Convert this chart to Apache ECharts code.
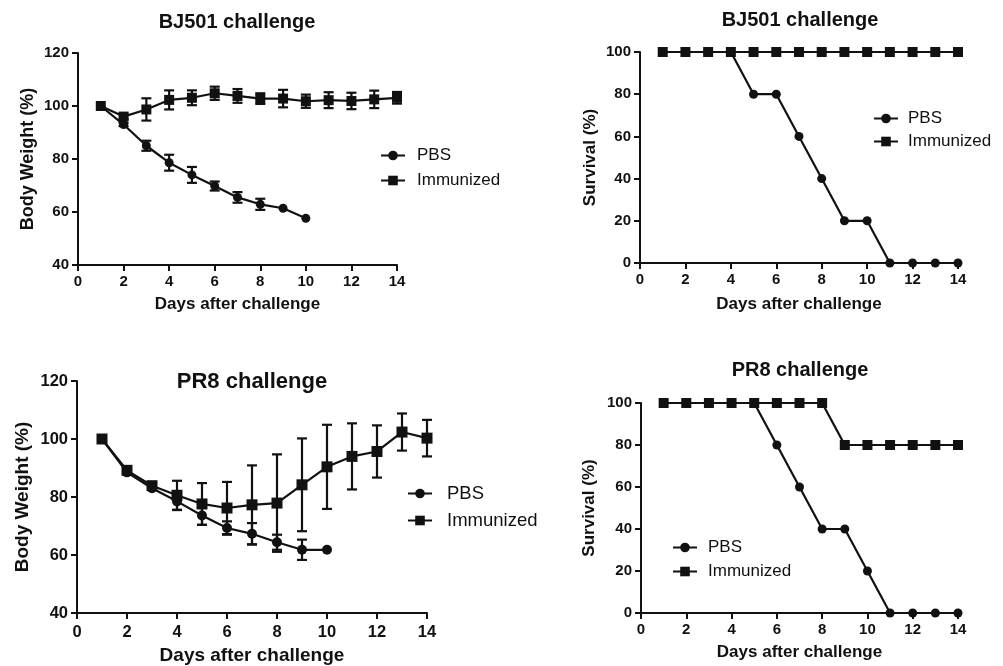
<!DOCTYPE html>
<html lang="en">
<head>
    <meta charset="UTF-8">
    <title>BJ501 / PR8 challenge</title>
    <script src="https://cdn.jsdelivr.net/npm/echarts/dist/echarts.min.js"></script>
    <style>
        body { margin: 0; padding: 0; background: #fff; }
        #main { width: 1003px; height: 666px; }
    </style>
</head>
<body>
    <div id="main"></div>
    <script type="text/javascript">
        // days after challenge
        var days = [1, 2, 3, 4, 5, 6, 7, 8, 9, 10, 11, 12, 13, 14];
        var xTicks = [0, 2, 4, 6, 8, 10, 12, 14];

        // BJ501 body weight (%), mean and SEM
        var bjPbsWeight = [100, 93, 85, 78.6, 74, 69.8, 65.5, 62.9, 61.4, 57.6];
        var bjPbsErr    = [0, 0.6, 1.9, 3, 3, 1.7, 2, 2.1, 0, 0];
        var bjImmWeight = [100, 96, 98.7, 102.3, 103.1, 104.8, 103.8, 102.8, 102.8, 101.8, 102.2, 101.9, 102.5, 103.1];
        var bjImmErr    = [0, 1, 4.2, 3.6, 2.8, 2.5, 2.6, 2, 3.3, 2.5, 3, 3.1, 3.3, 2.2];

        // BJ501 survival (%)
        var bjPbsSurv = [100, 100, 100, 100, 80, 80, 60, 40, 20, 20, 0, 0, 0, 0];
        var bjImmSurv = [100, 100, 100, 100, 100, 100, 100, 100, 100, 100, 100, 100, 100, 100];

        // PR8 body weight (%), mean and SEM
        var prPbsWeight = [100, 88.5, 83, 78.5, 73.6, 69.3, 67.3, 64.4, 61.8, 61.8];
        var prPbsErr    = [0, 0, 0, 3, 3.2, 2.3, 3.7, 2.6, 3.5, 0];
        var prImmWeight = [100, 89.2, 83.9, 80.6, 77.6, 76.2, 77.3, 77.9, 84.2, 90.4, 94, 95.7, 102.4, 100.3];
        var prImmErr    = [0, 0, 0, 5, 7.2, 9, 13.6, 16.8, 16, 14.5, 11.4, 9, 6.4, 6.3];

        // PR8 survival (%)
        var prPbsSurv = [100, 100, 100, 100, 100, 80, 60, 40, 40, 20, 0, 0, 0, 0];
        var prImmSurv = [100, 100, 100, 100, 100, 100, 100, 100, 80, 80, 80, 80, 80, 80];

        var INK = '#111';
        var FONT = '"Liberation Sans", Arial, sans-serif';

        function pairs(ys) {
            return ys.map(function (y, i) { return [days[i], y]; });
        }
        function errData(ys, errs) {
            var out = [];
            ys.forEach(function (y, i) {
                if (errs[i] > 0) out.push([days[i], y - errs[i], y + errs[i]]);
            });
            return out;
        }

        // error bar: vertical line with caps
        function errRender(params, api) {
            var x = api.value(0);
            var top = api.coord([x, api.value(2)]);
            var bot = api.coord([x, api.value(1)]);
            var w = 5;
            var st = { stroke: INK, lineWidth: 2.2 };
            return {
                type: 'group',
                children: [
                    { type: 'line', shape: { x1: top[0], y1: top[1], x2: bot[0], y2: bot[1] }, style: st },
                    { type: 'line', shape: { x1: top[0] - w, y1: top[1], x2: top[0] + w, y2: top[1] }, style: st },
                    { type: 'line', shape: { x1: bot[0] - w, y1: bot[1], x2: bot[0] + w, y2: bot[1] }, style: st }
                ]
            };
        }

        function xAxis(idx, nameSize, tickSize, nameGap, margin) {
            return {
                type: 'value', gridIndex: idx, min: 0, max: 14, interval: 2,
                name: 'Days after challenge', nameLocation: 'middle', nameGap: nameGap,
                nameTextStyle: { fontFamily: FONT, fontWeight: 'bold', fontSize: nameSize, color: INK },
                axisLine: { lineStyle: { color: INK, width: 2 } },
                axisTick: { length: 6, lineStyle: { color: INK, width: 2 } },
                axisLabel: { fontFamily: FONT, fontWeight: 'bold', fontSize: tickSize, color: INK, margin: margin },
                splitLine: { show: false }
            };
        }
        function yAxis(idx, name, min, max, nameSize, tickSize, nameGap) {
            return {
                type: 'value', gridIndex: idx, min: min, max: max, interval: 20,
                name: name, nameLocation: 'middle', nameRotate: 90, nameGap: nameGap,
                nameTextStyle: { fontFamily: FONT, fontWeight: 'bold', fontSize: nameSize, color: INK },
                axisLine: { show: true, lineStyle: { color: INK, width: 2 } },
                axisTick: { show: true, length: 6, lineStyle: { color: INK, width: 2 } },
                axisLabel: { fontFamily: FONT, fontWeight: 'bold', fontSize: tickSize, color: INK, margin: 9 },
                splitLine: { show: false }
            };
        }
        function lineSeries(name, idx, ys, symbol, size) {
            return {
                name: name, type: 'line', xAxisIndex: idx, yAxisIndex: idx,
                data: pairs(ys), symbol: symbol, symbolSize: size,
                showAllSymbol: true, z: 3,
                lineStyle: { color: INK, width: 2.2 },
                itemStyle: { color: INK }
            };
        }
        function errSeries(idx, ys, errs) {
            return {
                type: 'custom', xAxisIndex: idx, yAxisIndex: idx,
                renderItem: errRender, data: errData(ys, errs), z: 2, silent: true
            };
        }
        function title(text, x, y, size) {
            return {
                text: text, left: x, top: y, textAlign: 'center', padding: 0,
                textStyle: { fontFamily: FONT, fontWeight: 'bold', fontSize: size, color: INK }
            };
        }
        function legend(x, y, gap, pad, size) {
            return {
                data: ['PBS', 'Immunized'], orient: 'vertical', left: x, top: y,
                itemWidth: 24, itemHeight: 12, itemGap: gap, padding: 0,
                textStyle: { fontFamily: FONT, fontSize: size, color: INK, lineHeight: 12, padding: [0, 0, 0, pad] }
            };
        }

        var chart = echarts.init(document.getElementById('main'));
        var option = {
            backgroundColor: '#fff',
            animation: false,
            title: [
                title('BJ501 challenge', 237, 12, 20),
                title('BJ501 challenge', 800, 10, 20),
                title('PR8 challenge', 252, 371, 22),
                title('PR8 challenge', 800, 360, 20)
            ],
            legend: [
                legend(380, 147, 8, 7, 17),
                legend(873, 110, 6, 5, 17),
                legend(407, 484, 8, 10, 18.5),
                legend(672, 539, 7, 6, 17)
            ],
            grid: [
                { left: 78, top: 53, width: 319, height: 212 },
                { left: 640, top: 52, width: 318, height: 211 },
                { left: 77, top: 381, width: 350, height: 232 },
                { left: 641, top: 403, width: 317, height: 210 }
            ],
            xAxis: [
                xAxis(0, 17, 15, 31, 9),
                xAxis(1, 17, 15, 33, 9),
                xAxis(2, 19, 16.5, 33, 11),
                xAxis(3, 17, 15, 31, 9)
            ],
            yAxis: [
                yAxis(0, 'Body Weight (%)', 40, 120, 18, 15, 41),
                yAxis(1, 'Survival (%)', 0, 100, 17, 15, 41),
                yAxis(2, 'Body Weight (%)', 40, 120, 19, 16.5, 45),
                yAxis(3, 'Survival (%)', 0, 100, 17, 15, 43)
            ],
            series: [
                lineSeries('PBS', 0, bjPbsWeight, 'circle', 9),
                lineSeries('Immunized', 0, bjImmWeight, 'rect', 10),
                errSeries(0, bjPbsWeight, bjPbsErr),
                errSeries(0, bjImmWeight, bjImmErr),

                lineSeries('PBS', 1, bjPbsSurv, 'circle', 9),
                lineSeries('Immunized', 1, bjImmSurv, 'rect', 10),

                lineSeries('PBS', 2, prPbsWeight, 'circle', 10),
                lineSeries('Immunized', 2, prImmWeight, 'rect', 11),
                errSeries(2, prPbsWeight, prPbsErr),
                errSeries(2, prImmWeight, prImmErr),

                lineSeries('PBS', 3, prPbsSurv, 'circle', 9),
                lineSeries('Immunized', 3, prImmSurv, 'rect', 10)
            ]
        };
        chart.setOption(option);
    </script>
</body>
</html>
